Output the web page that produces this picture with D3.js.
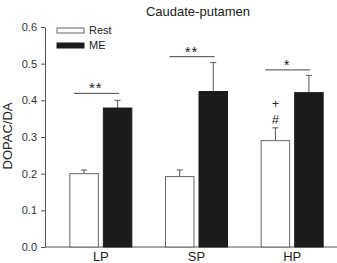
<!DOCTYPE html>
<html>
<head>
<meta charset="utf-8">
<script src="https://cdn.jsdelivr.net/npm/d3@7"></script>
<style>
  body { margin: 0; background: #fff; }
  text { font-family: "Liberation Sans", Arial, sans-serif; }
</style>
</head>
<body>
<div id="chart"></div>
<script>
// data
var regions = ["LP", "SP", "HP"];
var conditions = ["Rest", "ME"];
var restMean = [0.200, 0.192, 0.290];
var restErr  = [0.010, 0.018, 0.035];
var meMean   = [0.379, 0.424, 0.421];
var meErr    = [0.021, 0.079, 0.047];
var sigLabel = ["**", "**", "*"];
var sigLevel = [0.419, 0.519, 0.483];
var yTicks   = [0, 0.1, 0.2, 0.3, 0.4, 0.5, 0.6];

var width = 337, height = 263;

var svg = d3.select("#chart").append("svg")
  .attr("width", width)
  .attr("height", height);

var x = d3.scaleBand().domain(regions).range([53, 340]);
var xIn = d3.scaleBand().domain(conditions)
  .range([x.bandwidth() / 2 - 31, x.bandwidth() / 2 + 31])
  .paddingInner(0.15);
var y = d3.scaleLinear().domain([0, 0.6]).range([247, 27]);

var axisColor = "#555";
var axisX = 45;

// title
svg.append("text")
  .attr("x", 198).attr("y", 16)
  .attr("text-anchor", "middle")
  .attr("font-size", 13)
  .attr("fill", "#222")
  .text("Caudate-putamen");

// y axis
var yAxis = svg.append("g")
  .attr("transform", "translate(" + axisX + ",0)")
  .call(d3.axisLeft(y).tickValues(yTicks).tickFormat(d3.format(".1f"))
    .tickSize(4).tickSizeOuter(0).tickPadding(4));
yAxis.select(".domain").attr("stroke", axisColor);
yAxis.selectAll(".tick line").attr("stroke", axisColor);
yAxis.selectAll(".tick text")
  .attr("font-size", 11)
  .attr("font-family", "Liberation Sans, Arial, sans-serif")
  .attr("fill", "#333");

svg.append("text")
  .attr("transform", "translate(12," + 136 + ") rotate(-90)")
  .attr("text-anchor", "middle")
  .attr("font-size", 13)
  .attr("fill", "#222")
  .text("DOPAC/DA");

// x axis baseline
svg.append("line")
  .attr("x1", axisX).attr("x2", width)
  .attr("y1", y(0)).attr("y2", y(0))
  .attr("stroke", axisColor);

var xAxis = svg.append("g")
  .attr("transform", "translate(0," + y(0) + ")")
  .call(d3.axisBottom(x).tickSize(0).tickPadding(5));
xAxis.select(".domain").remove();
xAxis.selectAll(".tick text")
  .attr("font-size", 13)
  .attr("font-family", "Liberation Sans, Arial, sans-serif")
  .attr("fill", "#222");

// bars
var rows = [];
regions.forEach(function(r, i) {
  rows.push({region: r, cond: "Rest", mean: restMean[i], err: restErr[i]});
  rows.push({region: r, cond: "ME", mean: meMean[i], err: meErr[i]});
});

var bars = svg.append("g").selectAll("g")
  .data(rows)
  .enter().append("g")
  .attr("transform", function(d) { return "translate(" + (x(d.region) + xIn(d.cond)) + ",0)"; });

// error bars (upper only)
bars.append("line")
  .attr("x1", xIn.bandwidth() / 2).attr("x2", xIn.bandwidth() / 2)
  .attr("y1", function(d) { return y(d.mean); })
  .attr("y2", function(d) { return y(d.mean + d.err); })
  .attr("stroke", "#555");
bars.append("line")
  .attr("x1", xIn.bandwidth() / 2 - 3).attr("x2", xIn.bandwidth() / 2 + 3)
  .attr("y1", function(d) { return y(d.mean + d.err); })
  .attr("y2", function(d) { return y(d.mean + d.err); })
  .attr("stroke", "#555");

bars.append("rect")
  .attr("x", 0)
  .attr("width", xIn.bandwidth())
  .attr("y", function(d) { return y(d.mean); })
  .attr("height", function(d) { return y(0) - y(d.mean); })
  .attr("fill", function(d) { return d.cond == "ME" ? "#1b1b1b" : "#fff"; })
  .attr("stroke", function(d) { return d.cond == "ME" ? "#1b1b1b" : "#666"; });

// significance brackets
var sig = svg.append("g").selectAll("g")
  .data(regions)
  .enter().append("g")
  .attr("transform", function(d) { return "translate(" + (x(d) + x.bandwidth() / 2 - 5) + ",0)"; });
sig.append("line")
  .attr("x1", -22).attr("x2", 23)
  .attr("y1", function(d, i) { return y(sigLevel[i]); })
  .attr("y2", function(d, i) { return y(sigLevel[i]); })
  .attr("stroke", "#444");
sig.append("text")
  .attr("text-anchor", "middle")
  .attr("y", function(d, i) { return y(sigLevel[i]); })
  .attr("font-size", 15)
  .attr("letter-spacing", 1)
  .attr("fill", "#222")
  .text(function(d, i) { return sigLabel[i]; });

// + and # over HP rest
var hpX = x("HP") + xIn("Rest") + xIn.bandwidth() / 2;
var hpTop = y(restMean[2] + restErr[2]);
svg.append("text")
  .attr("x", hpX).attr("y", hpTop - 4)
  .attr("text-anchor", "middle").attr("font-size", 13).attr("fill", "#222")
  .text("#");
svg.append("text")
  .attr("x", hpX).attr("y", hpTop - 20)
  .attr("text-anchor", "middle").attr("font-size", 12).attr("fill", "#222")
  .text("+");

// legend
var legend = svg.append("g").selectAll("g")
  .data(conditions)
  .enter().append("g")
  .attr("transform", function(d, i) { return "translate(57," + (28 + i * 15) + ")"; });
legend.append("rect")
  .attr("width", 27).attr("height", 5)
  .attr("fill", function(d) { return d == "ME" ? "#1b1b1b" : "#fff"; })
  .attr("stroke", function(d) { return d == "ME" ? "#1b1b1b" : "#666"; });
legend.append("text")
  .attr("x", 32).attr("y", 6)
  .attr("font-size", 11)
  .attr("fill", "#222")
  .text(function(d) { return d; });
</script>
</body>
</html>
